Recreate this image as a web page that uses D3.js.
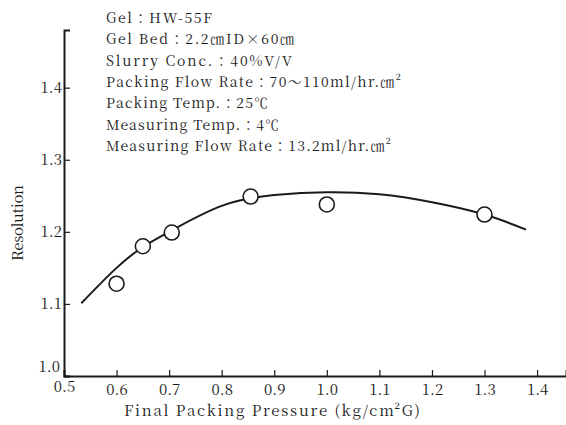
<!DOCTYPE html>
<html>
<head>
<meta charset="utf-8">
<script src="https://cdn.jsdelivr.net/npm/d3@7"></script>
<style>
body { margin: 0; background: #fff; }
svg text { fill: #1a1a1a; }
</style>
</head>
<body>
<svg id="chart" width="566" height="425"></svg>
<script>
// measured points
var pressure = [0.6, 0.65, 0.705, 0.855, 1.0, 1.3];
var resolution = [1.128, 1.18, 1.199, 1.249, 1.238, 1.224];

// hand drawn trend curve
var fit_pressure = [0.533, 0.6, 0.65, 0.7, 0.8, 0.9, 1.0, 1.1, 1.2, 1.3, 1.379];
var fit_resolution = [1.101, 1.15, 1.179, 1.2, 1.236, 1.251, 1.255, 1.252, 1.241, 1.224, 1.203];

var x_ticks = [0.5, 0.6, 0.7, 0.8, 0.9, 1.0, 1.1, 1.2, 1.3, 1.4];
var y_ticks = [1.0, 1.1, 1.2, 1.3, 1.4];

var notes = [
    'Gel：HW-55F',
    'Gel Bed：2.2㎝ID×60㎝',
    'Slurry Conc.：40%V/V',
    'Packing Flow Rate：70～110ml/hr.㎝²',
    'Packing Temp.：25℃',
    'Measuring Temp.：4℃',
    'Measuring Flow Rate：13.2ml/hr.㎝²'
];
var notes_width = [106, 188, 186, 295, 162, 173, 285];

var mincho = "'Noto Serif CJK JP', 'Liberation Serif', serif";
var svg = d3.select('#chart');

var x = d3.scaleLinear().domain([0.5, 1.455]).range([64, 566]);
var y = d3.scaleLinear().domain([1.0, 1.48]).range([376, 30]);

// AXES
var xAxis = d3.axisBottom(x).tickValues(x_ticks).tickSize(-6).tickPadding(8)
    .tickFormat(d3.format('.1f'));
var gx = svg.append('g').attr('transform', 'translate(0,' + y(1.0) + ')').call(xAxis)
    .attr('font-family', mincho);
gx.select('.domain').attr('stroke', '#1a1a1a').attr('stroke-width', 2);
gx.selectAll('.tick line').attr('stroke', '#1a1a1a').attr('stroke-width', 1.2);
gx.selectAll('.tick text').attr('font-size', 15).attr('fill', '#1a1a1a')
    .filter(function(d) { return d === 0.5; }).attr('dy', '0.5em');

var yAxis = d3.axisLeft(y).tickValues(y_ticks).tickSize(-6).tickPadding(2)
    .tickFormat(d3.format('.1f'));
var gy = svg.append('g').attr('transform', 'translate(' + x(0.5) + ',0)').call(yAxis)
    .attr('font-family', mincho);
gy.select('.domain').attr('stroke', '#1a1a1a').attr('stroke-width', 2);
gy.selectAll('.tick line').attr('stroke', '#1a1a1a').attr('stroke-width', 1.2);
gy.selectAll('.tick text').attr('font-size', 15).attr('fill', '#1a1a1a');
gy.selectAll('.tick').filter(function(d) { return d === 1.0; }).select('text')
    .attr('dy', '-0.3em').attr('x', -4);

// axis titles
svg.append('text')
    .attr('x', 272).attr('y', 416)
    .attr('text-anchor', 'middle')
    .attr('font-family', mincho)
    .attr('font-size', 15)
    .attr('textLength', 296)
    .text('Final Packing Pressure (kg/cm²G)');

svg.append('text')
    .attr('transform', 'translate(23,223) rotate(-90)')
    .attr('text-anchor', 'middle')
    .attr('font-family', mincho)
    .attr('font-size', 15)
    .attr('textLength', 76)
    .text('Resolution');

// trend curve
var line = d3.line()
    .x(function(d) { return x(d[0]); })
    .y(function(d) { return y(d[1]); })
    .curve(d3.curveNatural);

svg.append('path')
    .datum(d3.zip(fit_pressure, fit_resolution))
    .attr('d', line)
    .attr('fill', 'none')
    .attr('stroke', '#1a1a1a')
    .attr('stroke-width', 2);

// points
svg.selectAll('circle.pt')
    .data(d3.zip(pressure, resolution))
    .enter().append('circle')
    .attr('class', 'pt')
    .attr('cx', function(d) { return x(d[0]); })
    .attr('cy', function(d) { return y(d[1]); })
    .attr('r', 7.5)
    .attr('fill', '#fff')
    .attr('stroke', '#1a1a1a')
    .attr('stroke-width', 1.6);

// conditions block
svg.selectAll('text.note')
    .data(notes)
    .enter().append('text')
    .attr('class', 'note')
    .attr('x', 106)
    .attr('y', function(d, i) { return 23 + i * 21.3; })
    .attr('font-family', mincho)
    .attr('font-size', 14)
    .attr('textLength', function(d, i) { return notes_width[i]; })
    .text(function(d) { return d; });
</script>
</body>
</html>
